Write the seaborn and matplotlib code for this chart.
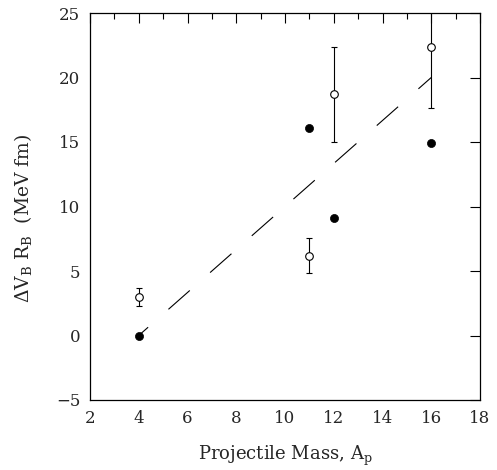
import matplotlib
matplotlib.use("Agg")
import matplotlib.pyplot as plt
import seaborn as sns
import pandas as pd
import numpy as np

sns.set_theme(style="white")
plt.rcParams["font.family"] = ["DejaVu Serif"]
plt.rcParams["mathtext.fontset"] = "dejavuserif"
plt.rcParams["lines.scale_dashes"] = False

# Filled points
mass_filled = [4, 11, 12, 16]
dvr_filled = [0.0, 16.1, 9.1, 14.9]

# Open points with uncertainties
mass_open = [4, 11, 12, 16]
dvr_open = [3.0, 6.2, 18.7, 22.4]
dvr_open_err = [0.7, 1.35, 3.7, 4.8]

# Linear trend
trend_mass = [4, 16]
trend_dvr = [0.0, 20.0]

df_filled = pd.DataFrame({"A": mass_filled, "dVR": dvr_filled})
df_open = pd.DataFrame({"A": mass_open, "dVR": dvr_open, "err": dvr_open_err})
df_trend = pd.DataFrame({"A": trend_mass, "dVR": trend_dvr})

fig = plt.figure(figsize=(4.97, 4.70), dpi=100)
ax = fig.add_axes([90 / 497, 70 / 470, 390 / 497, 387 / 470])

sns.lineplot(data=df_trend, x="A", y="dVR", ax=ax, color="black", lw=0.8,
             dashes=False)
trend_line = ax.lines[-1]
trend_line.set_linestyle((11.5, (20.5, 19.5)))
trend_line.set_dash_capstyle("butt")

ax.errorbar(df_open["A"], df_open["dVR"], yerr=df_open["err"], fmt="none",
            ecolor="black", elinewidth=0.8, capsize=2.3, capthick=0.8, zorder=3)
sns.scatterplot(data=df_open, x="A", y="dVR", ax=ax, s=30, marker="o",
                facecolor="white", edgecolor="black", linewidth=0.8, zorder=4)
sns.scatterplot(data=df_filled, x="A", y="dVR", ax=ax, s=34, marker="o",
                color="black", edgecolor="black", linewidth=0.5, zorder=4)

ax.set_xlim(2, 18)
ax.set_ylim(-5, 25)
ax.set_xticks(np.arange(2, 19, 2))
ax.set_xticks(np.arange(3, 18, 2), minor=True)
ax.set_yticks(np.arange(-5, 26, 5))
ax.tick_params(which="both", direction="in", top=True, right=True,
               labelsize=12, color="black", width=0.8, pad=7)
ax.tick_params(which="major", length=7)
ax.tick_params(which="minor", length=4)
for s in ax.spines.values():
    s.set_color("black")
    s.set_linewidth(0.9)

ax.set_xlabel("Projectile Mass, A$_\\mathrm{p}$", fontsize=13, labelpad=12)
ax.set_ylabel("$\\Delta$V$_\\mathrm{B}$ R$_\\mathrm{B}$  (MeV fm)", fontsize=13.5)
ax.yaxis.set_label_coords(-0.143, 0.47)

fig.savefig("out.png", dpi=100)
